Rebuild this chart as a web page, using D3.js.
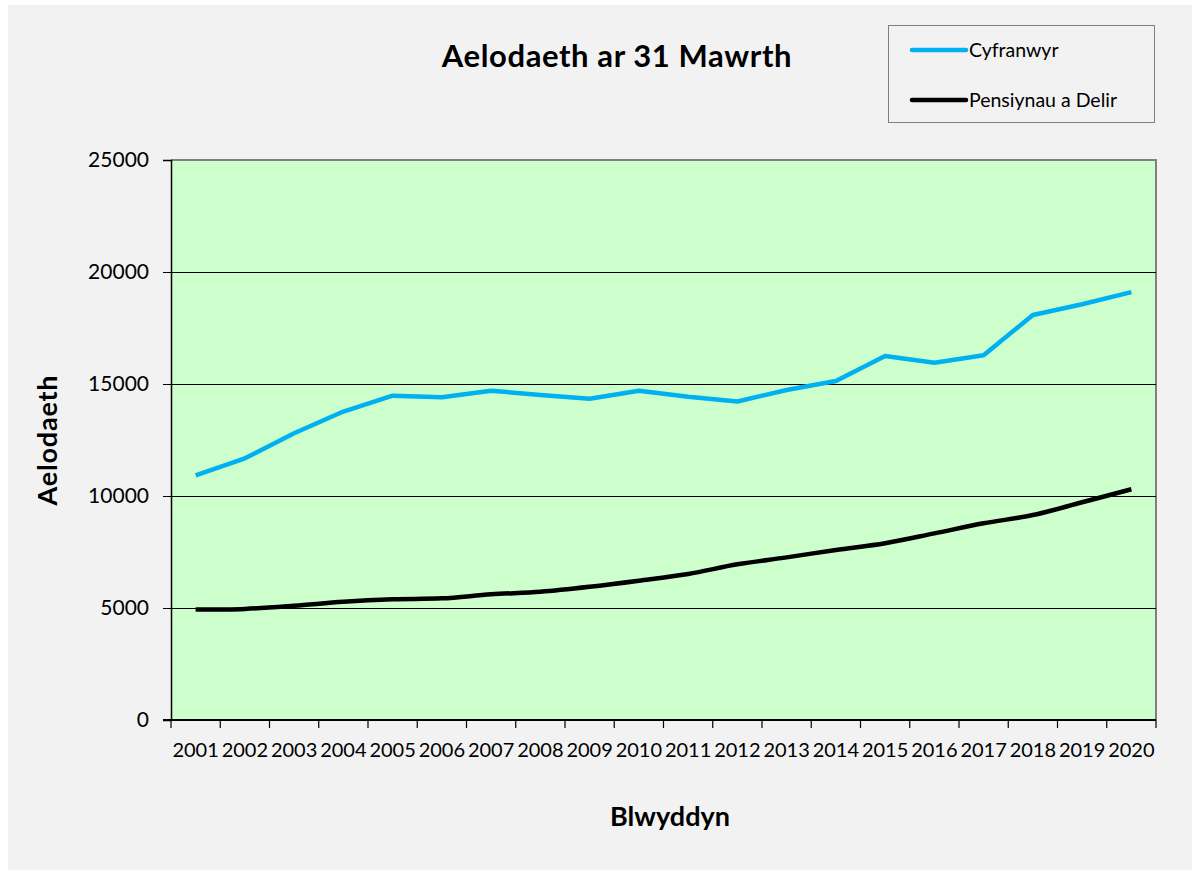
<!DOCTYPE html>
<meta charset="utf-8">
<script src="https://d3js.org/d3.v7.min.js"></script>
<style>
  body { margin: 0; background: #fff; }
  text { font-family: Lato, "Open Sans", sans-serif; fill: #000; }
</style>
<div id="my_dataviz"></div>
<script>

// data
var years = ["2001","2002","2003","2004","2005","2006","2007","2008","2009","2010",
             "2011","2012","2013","2014","2015","2016","2017","2018","2019","2020"];
var cyfranwyr = [10920, 11680, 12800, 13770, 14480, 14410, 14700, 14510, 14340, 14700,
                 14430, 14220, 14730, 15130, 16250, 15950, 16280, 18080, 18560, 19100];
var pensiynau = [4930, 4960, 5100, 5280, 5390, 5430, 5610, 5730, 5950, 6220,
                 6520, 6950, 7260, 7590, 7890, 8330, 8780, 9150, 9720, 10300];
var yTicks = [0, 5000, 10000, 15000, 20000, 25000];

var W = 1192, H = 870;
var margin = {top: 160, right: 36, bottom: 150, left: 171},
    width = 1156 - margin.left,
    height = 720 - margin.top;

var svg = d3.select("#my_dataviz")
  .append("svg")
    .attr("width", W)
    .attr("height", H);

// chart background
svg.append("rect")
  .attr("x", 8).attr("y", 5)
  .attr("width", W - 8).attr("height", H - 5)
  .attr("fill", "#f2f2f2");

var g = svg.append("g")
  .attr("transform", "translate(" + margin.left + "," + margin.top + ")");

var x = d3.scaleBand().domain(years).range([0, width]);
var y = d3.scaleLinear().domain([0, 25000]).range([height, 0]);

// plot area
g.append("rect")
  .attr("width", width).attr("height", height)
  .attr("fill", "#ccffcc");

// gray frame top and right
g.append("path")
  .attr("d", "M0,0H" + width + "V" + height)
  .attr("fill", "none")
  .attr("stroke", "#808080")
  .attr("stroke-width", 2);

// gridlines
g.selectAll(".grid")
  .data(yTicks.filter(function(d) { return d > 0 && d < 25000; }))
  .enter().append("line")
    .attr("x1", 0).attr("x2", width)
    .attr("y1", function(d) { return Math.round(y(d)) + 0.5; })
    .attr("y2", function(d) { return Math.round(y(d)) + 0.5; })
    .attr("stroke", "#000")
    .attr("stroke-width", 1);

// Y axis
var yAxis = g.append("g")
  .call(d3.axisLeft(y).tickValues(yTicks).tickSize(8).tickPadding(14).tickFormat(d3.format("d")));
yAxis.select(".domain").attr("stroke", "#000").attr("stroke-width", 1.5);
yAxis.selectAll(".tick line").attr("stroke", "#000");
yAxis.selectAll("text").style("font-size", "21px").attr("fill", "#000");

// X axis: ticks between categories
var xAxis = g.append("g").attr("transform", "translate(0," + height + ")");
xAxis.append("line")
  .attr("x1", -8).attr("x2", width)
  .attr("stroke", "#000").attr("stroke-width", 2);
var bounds = years.map(function(d) { return x(d); }).concat([width]);
xAxis.selectAll(".xt")
  .data(bounds)
  .enter().append("line")
    .attr("x1", function(d) { return d; }).attr("x2", function(d) { return d; })
    .attr("y1", 0).attr("y2", 8)
    .attr("stroke", "#000").attr("stroke-width", 1.2);
xAxis.selectAll(".xl")
  .data(years)
  .enter().append("text")
    .attr("x", function(d) { return x(d) + x.bandwidth() / 2; })
    .attr("y", 37)
    .attr("text-anchor", "middle")
    .style("font-size", "20px")
    .text(function(d) { return d; });

// lines
var cx = function(d, i) { return x(years[i]) + x.bandwidth() / 2; };

g.append("path")
  .datum(cyfranwyr)
  .attr("fill", "none")
  .attr("stroke", "#00b0f0")
  .attr("stroke-width", 4.5)
  .attr("stroke-linejoin", "round")
  .attr("d", d3.line().x(cx).y(function(d) { return y(d); }));

g.append("path")
  .datum(pensiynau)
  .attr("fill", "none")
  .attr("stroke", "#000")
  .attr("stroke-width", 4.5)
  .attr("stroke-linejoin", "round")
  .attr("d", d3.line().curve(d3.curveCatmullRom).x(cx).y(function(d) { return y(d); }));

// title
svg.append("text")
  .attr("x", 617).attr("y", 67)
  .attr("text-anchor", "middle")
  .style("font-size", "31px").style("font-weight", "bold")
  .style("letter-spacing", "0.6px")
  .text("Aelodaeth ar 31 Mawrth");

// axis titles
svg.append("text")
  .attr("transform", "translate(57,440) rotate(-90)")
  .attr("text-anchor", "middle")
  .style("font-size", "27px").style("font-weight", "bold")
  .style("letter-spacing", "0.8px")
  .text("Aelodaeth");

svg.append("text")
  .attr("x", 670).attr("y", 826)
  .attr("text-anchor", "middle")
  .style("font-size", "27px").style("font-weight", "bold")
  .text("Blwyddyn");

// legend
var series = [{name: "Cyfranwyr", color: "#00b0f0"}, {name: "Pensiynau a Delir", color: "#000"}];
svg.append("rect")
  .attr("x", 888.5).attr("y", 25.5)
  .attr("width", 266).attr("height", 97)
  .attr("fill", "#f2f2f2")
  .attr("stroke", "#808080");
var legend = svg.selectAll(".legend")
  .data(series)
  .enter().append("g")
    .attr("class", "legend")
    .attr("transform", function(d, i) { return "translate(912," + (50 + i * 50) + ")"; });
legend.append("line")
  .attr("x1", 0).attr("x2", 54)
  .attr("stroke", function(d) { return d.color; })
  .attr("stroke-width", 4.5)
  .attr("stroke-linecap", "round");
legend.append("text")
  .attr("x", 57).attr("y", 0)
  .attr("dy", "0.35em")
  .style("font-size", "19.5px")
  .text(function(d) { return d.name; });

</script>
